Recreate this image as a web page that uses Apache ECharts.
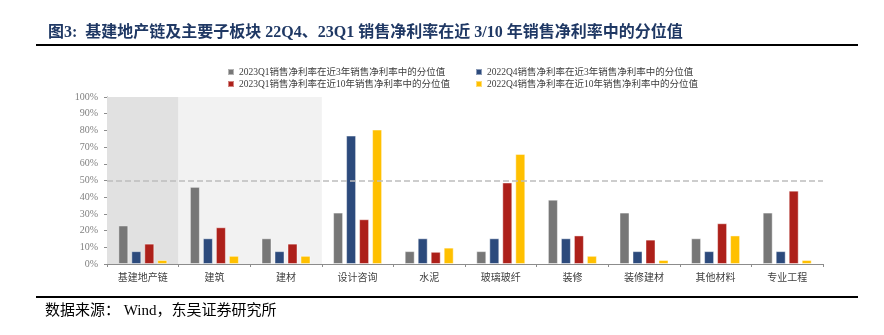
<!DOCTYPE html>
<html>
<head>
<meta charset="utf-8">
<script src="https://cdn.jsdelivr.net/npm/echarts@6/dist/echarts.min.js"></script>
<style>html,body{margin:0;padding:0;background:#fff;}#c{width:884px;height:335px;}</style>
</head>
<body>
<div id="c"></div>
<script>
const categories = ['基建地产链','建筑','建材','设计咨询','水泥','玻璃玻纤','装修','装修建材','其他材料','专业工程'];
const seriesNames = [
  '2023Q1销售净利率在近3年销售净利率中的分位值',
  '2022Q4销售净利率在近3年销售净利率中的分位值',
  '2023Q1销售净利率在近10年销售净利率中的分位值',
  '2022Q4销售净利率在近10年销售净利率中的分位值'
];
const q1_3y  = [23.1, 46.2, 15.4, 30.8, 7.7, 7.7, 38.5, 30.8, 15.4, 30.8];
const q4_3y  = [7.7, 15.4, 7.7, 76.9, 15.4, 15.4, 15.4, 7.7, 7.7, 7.7];
const q1_10y = [12.2, 22.0, 12.2, 26.8, 7.3, 48.8, 17.1, 14.6, 24.4, 43.9];
const q4_10y = [2.4, 4.9, 4.9, 80.5, 9.8, 65.9, 4.9, 2.4, 17.1, 2.4];
const yTicks = {min: 0, max: 100, interval: 10};
const refLine = 50;

const colors = ['#777777', '#2c4a7c', '#ad201a', '#ffc000'];
const latin = '"Liberation Serif", "Noto Sans CJK SC", serif';

const chart = echarts.init(document.getElementById('c'), null, {renderer: 'canvas'});

function bar(i, data, extra) {
  return Object.assign({
    name: seriesNames[i], type: 'bar', data: data,
    barWidth: 10, barGap: '30%',
    itemStyle: {color: colors[i], borderColor: 'rgba(255,255,255,0.45)', borderWidth: 1},
    z: 3
  }, extra || {});
}

const legendCommon = {
  orient: 'vertical', icon: 'rect', itemWidth: 6, itemHeight: 6, itemGap: 0,
  textStyle: {fontSize: 9.5, color: '#404040', fontFamily: latin, lineHeight: 12}
};

chart.setOption({
  animation: false,
  title: {
    text: '图3:  基建地产链及主要子板块 22Q4、23Q1 销售净利率在近 3/10 年销售净利率中的分位值',
    left: 43, top: 20,
    textStyle: {color: '#1f3864', fontSize: 16, fontWeight: 'bold', fontFamily: latin}
  },
  legend: [
    Object.assign({left: 222, top: 61, data: [seriesNames[0], seriesNames[2]]}, legendCommon),
    Object.assign({left: 470, top: 61, data: [seriesNames[1], seriesNames[3]]}, legendCommon)
  ],
  grid: {left: 107, right: 61, top: 97, bottom: 71, containLabel: false},
  xAxis: [{
    type: 'category', data: categories,
    axisLine: {lineStyle: {color: '#8c8c8c', width: 1}},
    axisTick: {show: true, length: 3, lineStyle: {color: '#8c8c8c'}},
    axisLabel: {fontSize: 10, color: '#404040', margin: 8, fontFamily: '"Noto Sans CJK SC", sans-serif'}
  }, {
    type: 'value', min: 0, max: 10, show: false
  }],
  yAxis: {
    type: 'value', min: yTicks.min, max: yTicks.max, interval: yTicks.interval,
    axisLine: {show: true, lineStyle: {color: '#8c8c8c'}},
    axisTick: {show: true, length: 3, lineStyle: {color: '#8c8c8c'}},
    splitLine: {show: false},
    axisLabel: {formatter: '{value}%', fontSize: 10, color: '#808080', fontFamily: latin, margin: 9}
  },
  series: [
    {
      type: 'line', xAxisIndex: 1, data: [[0, 0]], symbol: 'none',
      lineStyle: {opacity: 0}, silent: true, z: 0,
      markArea: {
        silent: true,
        data: [
          [{xAxis: 0, itemStyle: {color: '#e1e1e1'}}, {xAxis: 1}],
          [{xAxis: 1, itemStyle: {color: '#f2f2f2'}}, {xAxis: 3}]
        ]
      }
    },
    bar(0, q1_3y, {
      markLine: {
        silent: true, symbol: ['none', 'none'], label: {show: false},
        lineStyle: {color: '#bdbdbd', type: [6, 3], width: 1.5},
        data: [{yAxis: refLine}]
      }
    }),
    bar(1, q4_3y),
    bar(2, q1_10y),
    bar(3, q4_10y)
  ],
  graphic: [
    {type: 'line', shape: {x1: 36, y1: 45, x2: 858, y2: 45}, style: {stroke: '#000', lineWidth: 2}},
    {type: 'line', shape: {x1: 36, y1: 297, x2: 858, y2: 297}, style: {stroke: '#000', lineWidth: 2}},
    {type: 'text', left: 45, top: 304, style: {text: '数据来源： Wind，东吴证券研究所', fill: '#000', font: '15px "Liberation Serif", "Noto Sans CJK SC", serif'}}
  ]
});
</script>
</body>
</html>
